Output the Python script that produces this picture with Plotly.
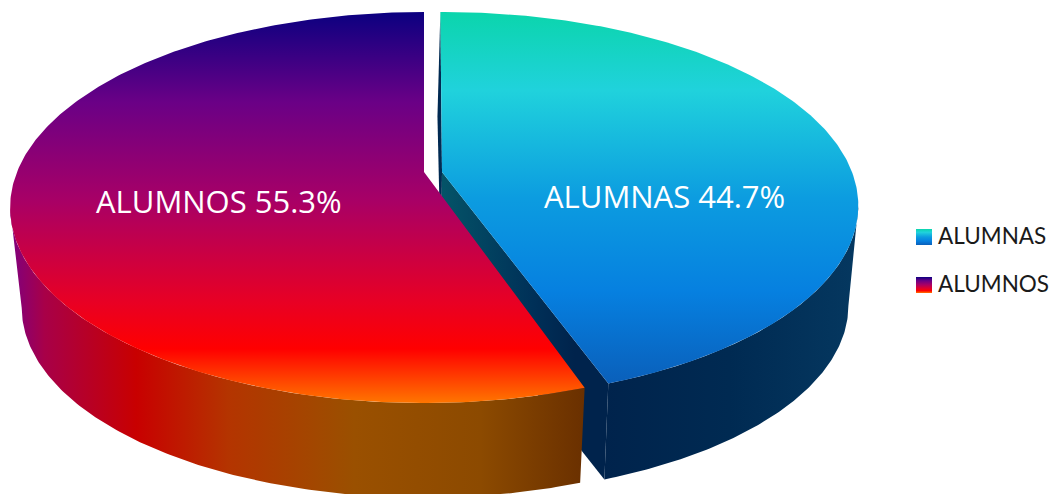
import numpy as np
import plotly.graph_objects as go

categories = ["ALUMNAS", "ALUMNOS"]
shares = [44.7, 55.3]

# colour stops (gradient position, colour)
top_alumnas = [[0, "#0BD5AC"], [0.21, "#20D2DC"], [0.5, "#0C9CE0"], [0.75, "#0680E0"], [1, "#0A5FBA"]]
top_alumnos = [[0, "#0B0080"], [0.23, "#6A0086"], [0.48, "#A80066"], [0.74, "#E80024"], [0.86, "#FF0000"], [1, "#FF7800"]]
wall_alumnos = [[0, "#7E0080"], [0.06, "#A80048"], [0.22, "#C80000"], [0.38, "#B43400"], [0.6, "#9A5000"], [0.82, "#8C4A00"], [1, "#6A3000"]]
wall_alumnas = [[0, "#00234C"], [0.5, "#002A52"], [1, "#053860"]]
cut_alumnas = [[0, "#045468"], [0.55, "#003058"], [0.8, "#00234C"], [1, "#00234C"]]

fig = go.Figure()


def plane(cx, y0, a, b, k, theta):
    t = np.radians(theta)
    sx, cy = np.sin(t), np.cos(t)
    w = 1 + k * cy
    return cx + a * sx / w, y0 - b * cy / w


def poly(x, y, cs, orient, start, stop):
    fig.add_trace(go.Scatter(
        x=x, y=y, mode="lines", fill="toself", line=dict(width=0),
        fillgradient=dict(type=orient, colorscale=cs, start=start, stop=stop),
        hoverinfo="skip", showlegend=False))


# ALUMNAS slice
cxR, kR, aR = 444.0, 0.174, 408.0
bR = 160 * (1 + kR)
sR, y0R, y0Rb = 0.976, 172.0, 273.0
t0R = -0.6
t1R = t0R + shares[0] * 3.6
top = lambda th: plane(cxR, y0R, aR, bR, kR, th)
bot = lambda th: plane(cxR, y0Rb, aR * sR, bR * sR, kR, th)

nx, ny = top(t0R)
bx, by = bot(t0R)
poly([nx, cxR - 2, cxR - 3, bx - 3], [ny, y0R, y0Rb, by], wall_alumnas, "horizontal", 430, 450)
cx1, cy1 = top(t1R)
cx2, cy2 = bot(t1R)
poly([cxR - 2, cx1, cx2, cxR - 3], [y0R, cy1, cy2, y0Rb], cut_alumnas, "horizontal", 441, 608)
thr = np.linspace(t1R, 180 - np.degrees(np.arcsin(np.sqrt(1 - kR ** 2))), 120)
xt, yt = top(thr)
xb, yb = bot(thr)
poly(np.r_[xt, xb[::-1]], np.r_[yt, yb[::-1]], wall_alumnas, "horizontal", 600, 858)
thr = np.linspace(t0R, t1R, 240)
xt, yt = top(thr)
poly(np.r_[cxR - 2, xt], np.r_[y0R, yt], top_alumnas, "vertical", 12, 385)

# ALUMNOS slice
cxL, kL, aL = 424.0, 0.1818, 407.0
bL = 160 * (1 + kL)
sL, y0L, y0Lb = 0.972, 172.0, 273.0
t0L = shares[0] * 3.6
top = lambda th: plane(cxL, y0L, aL, bL, kL, th)
bot = lambda th: plane(cxL, y0Lb, aL * sL, bL * sL, kL, th)
thl = np.linspace(t0L, 259.5, 160)
xt, yt = top(thl)
xb, yb = bot(thl)
poly(np.r_[xt, xb[::-1]], np.r_[yt, yb[::-1]], wall_alumnos, "horizontal", 10, 584)
thl = np.linspace(t0L, 360, 300)
xt, yt = top(thl)
poly(np.r_[cxL, xt], np.r_[y0L, yt], top_alumnos, "vertical", 12, 404)

# legend swatches
for name, cs, ys in zip(categories, (top_alumnas, top_alumnos), (229, 277)):
    poly([916, 932, 932, 916], [ys, ys, ys + 16, ys + 16], cs, "vertical", ys, ys + 16)
    fig.add_annotation(x=936, y=ys + 6.5, text=name, showarrow=False, xanchor="left",
                       yanchor="middle", font=dict(family="Lato", size=22.5, color="#1A1A1A"))

# slice labels
label_pos = [(664, 196), (219, 201)]
for name, v, (lx, ly) in zip(categories, shares, label_pos):
    fig.add_annotation(x=lx, y=ly, text=f"{name} {v}%", showarrow=False, xanchor="center",
                       yanchor="middle", font=dict(family="Open Sans", size=31, color="#FFFFFF"))

fig.update_layout(
    width=1058, height=494, margin=dict(l=0, r=0, t=0, b=0),
    paper_bgcolor="white", plot_bgcolor="white", showlegend=False,
    xaxis=dict(range=[0, 1058], visible=False, fixedrange=True),
    yaxis=dict(range=[494, 0], visible=False, fixedrange=True),
)
fig.write_html("out.html", config=dict(displayModeBar=False),
               post_script="document.body.style.margin='0';document.body.style.overflow='hidden';")
